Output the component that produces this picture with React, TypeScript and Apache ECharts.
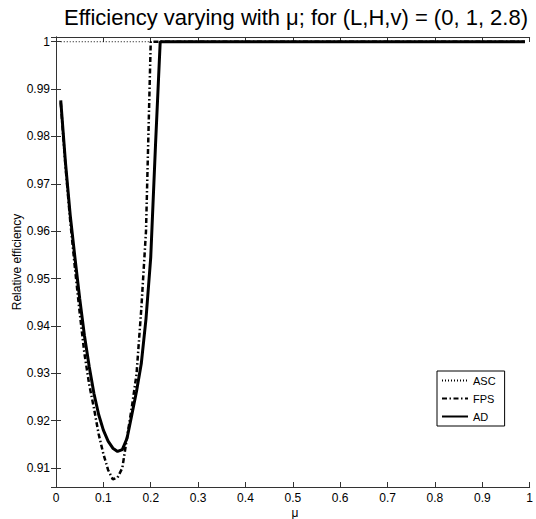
import React, { useEffect, useRef } from "react";
import * as echarts from "echarts";

const mu = [
  0.01, 0.02, 0.03, 0.04, 0.05, 0.06, 0.07, 0.08, 0.09, 0.1,
  0.11, 0.12, 0.13, 0.14, 0.15, 0.16, 0.17, 0.18, 0.19, 0.2,
  0.21, 0.22, 0.23, 0.24, 0.25, 0.3, 0.4, 0.5, 0.6, 0.7,
  0.8, 0.9, 0.99,
];

const ascValues = [
  1, 1, 1, 1, 1, 1, 1, 1, 1, 1,
  1, 1, 1, 1, 1, 1, 1, 1, 1, 1,
  1, 1, 1, 1, 1, 1, 1, 1, 1, 1,
  1, 1, 1,
];

const fpsValues = [
  0.9872, 0.9737, 0.9622, 0.9522, 0.9428, 0.9342, 0.9277, 0.9227, 0.9172, 0.913,
  0.9096, 0.9076, 0.908, 0.91, 0.9165, 0.9228, 0.9298, 0.9435, 0.96, 1,
  1, 1, 1, 1, 1, 1, 1, 1, 1, 1,
  1, 1, 1,
];

const adValues = [
  0.9876, 0.9745, 0.9634, 0.9544, 0.9458, 0.938, 0.9315, 0.9258, 0.9213, 0.918,
  0.9157, 0.9142, 0.9135, 0.9139, 0.9163, 0.9212, 0.9262, 0.932, 0.9415, 0.9545,
  0.978, 1, 1, 1, 1, 1, 1, 1, 1, 1,
  1, 1, 1,
];

const seriesNames = ["ASC", "FPS", "AD"];
const titleText = "Efficiency varying with \u03bc; for (L,H,v) = (0, 1, 2.8)";
const xName = "\u03bc";
const yName = "Relative efficiency";

const FONT = "Liberation Sans, Arial, Helvetica, sans-serif";
const AXIS_COLOR = "#333";

export default function App() {
  const ref = useRef<HTMLDivElement>(null);

  useEffect(() => {
    if (!ref.current) return;
    const chart = echarts.init(ref.current, undefined, { renderer: "svg" });
    const pairs = (vals: number[]) => mu.map((m, i) => [m, vals[i]]);

    const axisCommon = {
      axisLine: { show: true, lineStyle: { color: AXIS_COLOR, width: 1 } },
      axisTick: { show: true, inside: true, length: 5, lineStyle: { color: AXIS_COLOR } },
      splitLine: { show: false },
    };

    chart.setOption({
      animation: false,
      backgroundColor: "#fff",
      grid: { left: 56, right: 2, top: 37, bottom: 32, containLabel: false },
      graphic: [
        {
          type: "text",
          x: 296,
          y: 17,
          style: {
            text: titleText,
            align: "center",
            verticalAlign: "middle",
            font: `22px ${FONT}`,
            fill: "#000",
          },
        },
        {
          type: "text",
          x: 17,
          y: 262,
          rotation: Math.PI / 2,
          style: {
            text: yName,
            align: "center",
            verticalAlign: "middle",
            font: `12px ${FONT}`,
            fill: "#000",
          },
        },
        {
          type: "text",
          x: 295,
          y: 513,
          style: {
            text: xName,
            align: "center",
            verticalAlign: "middle",
            font: `12px ${FONT}`,
            fill: "#000",
          },
        },
      ],
      legend: {
        data: seriesNames,
        orient: "vertical",
        left: 437,
        top: 371,
        itemWidth: 26,
        itemHeight: 10,
        itemGap: 7,
        padding: [4, 9, 4, 4],
        borderColor: "#000",
        borderWidth: 1,
        backgroundColor: "#fff",
        borderRadius: 0,
        textStyle: { color: "#000", fontSize: 11, fontFamily: FONT },
        itemStyle: { opacity: 0 },
      },
      xAxis: [
        {
          type: "value",
          min: 0,
          max: 1,
          interval: 0.1,
          position: "bottom",
          ...axisCommon,
          axisLabel: { color: "#000", fontSize: 12, fontFamily: FONT, margin: 5 },
        },
        {
          type: "value",
          min: 0,
          max: 1,
          interval: 0.1,
          position: "top",
          ...axisCommon,
          axisLabel: { show: false },
        },
      ],
      yAxis: [
        {
          type: "value",
          min: 0.906,
          max: 1.001,
          splitNumber: 10,
          position: "left",
          ...axisCommon,
          axisLabel: {
            color: "#000",
            fontSize: 12,
            fontFamily: FONT,
            margin: 6,
            showMinLabel: false,
            showMaxLabel: false,
          },
        },
        {
          type: "value",
          min: 0.906,
          max: 1.001,
          splitNumber: 10,
          position: "right",
          ...axisCommon,
          axisLabel: { show: false },
        },
      ],
      series: [
        {
          name: "ASC",
          type: "line",
          data: pairs(ascValues),
          showSymbol: false,
          symbol: "none",
          lineStyle: { color: "#000", width: 1, type: [1, 2] },
          itemStyle: { color: "#000" },
        },
        {
          name: "FPS",
          type: "line",
          data: pairs(fpsValues),
          showSymbol: false,
          symbol: "none",
          lineStyle: { color: "#000", width: 2.5, type: [5, 2.5, 1.5, 2.5] },
          itemStyle: { color: "#000" },
        },
        {
          name: "AD",
          type: "line",
          data: pairs(adValues),
          showSymbol: false,
          symbol: "none",
          lineStyle: { color: "#000", width: 3, type: "solid" },
          itemStyle: { color: "#000" },
        },
      ],
    });

    return () => chart.dispose();
  }, []);

  return (
    <div
      ref={ref}
      style={{ position: "fixed", left: 0, top: 0, width: 536, height: 519, background: "#fff" }}
    />
  );
}
